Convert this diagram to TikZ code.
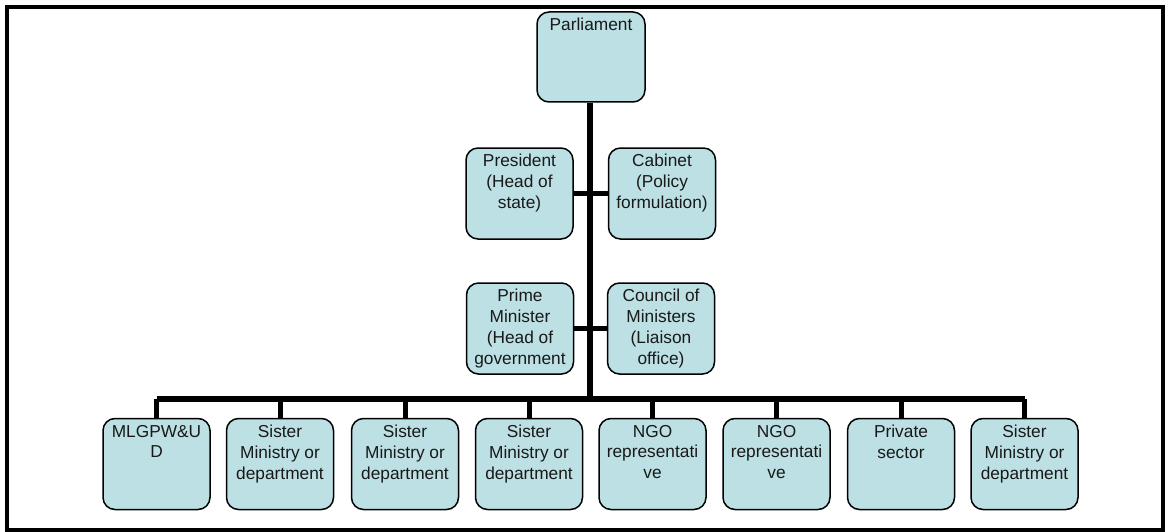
\documentclass[tikz,border=0pt]{standalone}
\usepackage{fontspec}
\setmainfont{Liberation Sans}
\begin{document}
\definecolor{boxfill}{RGB}{188,224,228}
\definecolor{ink}{RGB}{25,25,25}
\begin{tikzpicture}[x=1pt,y=-1pt,
  orgbox/.style={draw=black, line width=1.5pt, fill=boxfill, rounded corners=12pt,
    minimum width=107pt, minimum height=91pt, inner sep=0pt},
  boxtext/.style={anchor=north, yshift=-7pt, align=center, text=ink,
    font=\fontsize{17.3}{20.8}\selectfont, inner sep=0pt},
  link/.style={line width=5pt},
  bus/.style={line width=6pt}]
\useasboundingbox (0,0) rectangle (1169,532);
\draw[line width=3.5pt] (7,7) rectangle (1163,530);

% upper hierarchy
\node[orgbox, minimum width=108pt, minimum height=90pt,
  label={[boxtext]north:Parliament}] (parl) at (591,57) {};
\node[orgbox, label={[boxtext]north:President\\(Head of\\state)}] (pres) at (519.5,193.5) {};
\node[orgbox, label={[boxtext]north:Cabinet\\(Policy\\formulation)}] (cab) at (662,193.5) {};
\node[orgbox, label={[boxtext]north:Prime\\Minister\\(Head of\\government}] (pm) at (520,328.5) {};
\node[orgbox, label={[boxtext]north:Council of\\Ministers\\(Liaison\\office)}] (coun) at (661,328.5) {};

% bottom row
\node[orgbox, label={[boxtext]north:MLGPW\&U\\D}] (b1) at (156.5,464) {};
\node[orgbox, label={[boxtext]north:Sister\\Ministry or\\department}] (b2) at (280,464) {};
\node[orgbox, label={[boxtext]north:Sister\\Ministry or\\department}] (b3) at (405,464) {};
\node[orgbox, label={[boxtext]north:Sister\\Ministry or\\department}] (b4) at (529,464) {};
\node[orgbox, label={[boxtext]north:NGO\\representati\\ve}] (b5) at (652.5,464) {};
\node[orgbox, label={[boxtext]north:NGO\\representati\\ve}] (b6) at (776.5,464) {};
\node[orgbox, label={[boxtext]north:Private\\sector}] (b7) at (901,464) {};
\node[orgbox, label={[boxtext]north:Sister\\Ministry or\\department}] (b8) at (1024.5,464) {};

% connectors
\coordinate (hub) at (590,399);
\draw[bus] (parl.south -| hub) -- (hub);
\draw[link] (pres.east) -- (cab.west);
\draw[link] (pm.east) -- (coun.west);
\draw[bus] (hub -| b1.north) -- (hub -| b8.north);
\foreach \b in {b1,b2,b3,b4,b5,b6,b7,b8}
  \draw[link] (hub -| \b.north) -- (\b.north);
\end{tikzpicture}
\end{document}
